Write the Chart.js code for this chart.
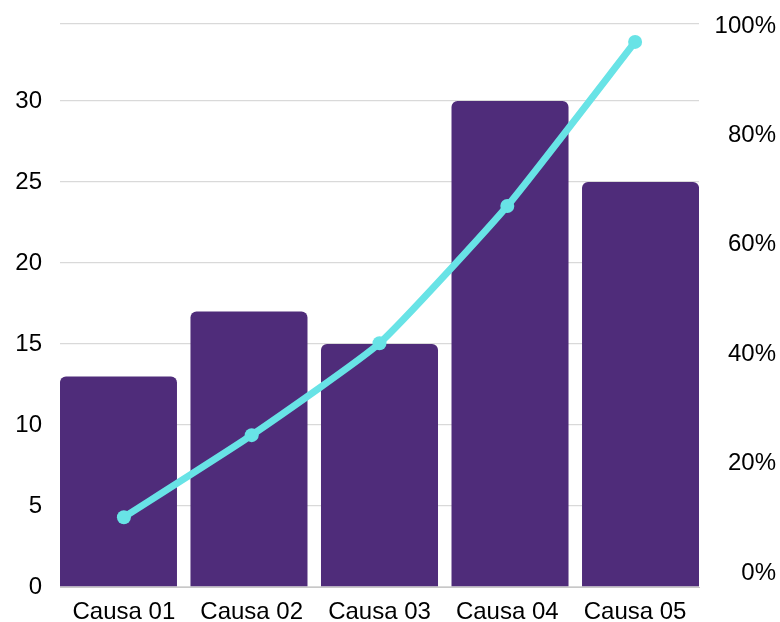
<!DOCTYPE html>
<html>
<head>
<meta charset="utf-8">
<script src="https://cdn.jsdelivr.net/npm/chart.js@4"></script>
<style>
  html, body { margin: 0; padding: 0; background: #fff; }
  #wrap { width: 780px; height: 622px; }
</style>
</head>
<body>
<div id="wrap"><canvas id="grafico" width="780" height="622"></canvas></div>
<script>
const causas = ['Causa 01', 'Causa 02', 'Causa 03', 'Causa 04', 'Causa 05'];
const ocorrencias = [13, 17, 15, 30, 25];
const acumulado = [0.102, 0.252, 0.420, 0.671, 0.971];
const ticksQtd = [0, 5, 10, 15, 20, 25, 30, 34.75];
const ticksPct = [0, 0.2, 0.4, 0.6, 0.8, 1];

const ROXO = '#4f2c7a';
const CIANO = '#68e3e6';
const fonte = { family: '"Liberation Sans", Arial, sans-serif', size: 24 };

Chart.defaults.color = '#000';

new Chart(document.getElementById('grafico'), {
  type: 'bar',
  data: {
    labels: causas,
    datasets: [
      {
        type: 'bar',
        data: ocorrencias.map((v, i) => ({ x: i, y: v })),
        xAxisID: 'xb',
        yAxisID: 'y',
        backgroundColor: ROXO,
        borderRadius: 6,
        borderSkipped: 'start',
        grouped: false,
        categoryPercentage: 1,
        barPercentage: 0.8966,
        order: 1
      },
      {
        type: 'line',
        data: acumulado,
        xAxisID: 'x',
        yAxisID: 'yPct',
        borderColor: CIANO,
        backgroundColor: CIANO,
        borderWidth: 7,
        pointRadius: 7,
        pointBackgroundColor: CIANO,
        pointBorderWidth: 0,
        tension: 0.15,
        order: 0
      }
    ]
  },
  options: {
    responsive: false,
    animation: false,
    layout: { padding: { top: 24, right: 4, left: 0, bottom: 0 } },
    plugins: { legend: { display: false }, tooltip: { enabled: false } },
    scales: {
      x: {
        type: 'category',
        offset: true,
        grid: { display: false },
        border: { display: true, color: '#c8c8c8', width: 1 },
        ticks: { font: fonte, padding: 3, maxRotation: 0 },
        afterFit: s => { s.height = 35; }
      },
      // eixo oculto so para as barras (encostadas nas bordas)
      xb: {
        type: 'linear',
        display: false,
        offset: false,
        grid: { offset: false },
        min: -0.448,
        max: 4.448,
        afterBuildTicks: s => { s.ticks = causas.map((c, i) => ({ value: i })); }
      },
      y: {
        position: 'left',
        min: 0,
        max: 34.75,
        afterBuildTicks: s => { s.ticks = ticksQtd.map(v => ({ value: v })); },
        grid: { color: '#d9d9d9', lineWidth: 1.3, drawTicks: false },
        border: { display: false },
        ticks: {
          font: fonte,
          padding: 18,
          callback: v => (v % 5 === 0 ? v : '')
        },
        afterFit: s => { s.width = 60; s.paddingTop = 0; s.paddingBottom = 0; }
      },
      yPct: {
        position: 'right',
        min: -0.0256,
        max: 1.0037,
        afterBuildTicks: s => { s.ticks = ticksPct.map(v => ({ value: v })); },
        grid: { display: false, drawTicks: false },
        border: { display: false },
        ticks: {
          font: fonte,
          padding: 7,
          crossAlign: 'far',
          callback: v => Math.round(v * 100) + '%'
        },
        afterFit: s => { s.width = 77; s.paddingTop = 0; s.paddingBottom = 0; }
      }
    }
  }
});
</script>
</body>
</html>
